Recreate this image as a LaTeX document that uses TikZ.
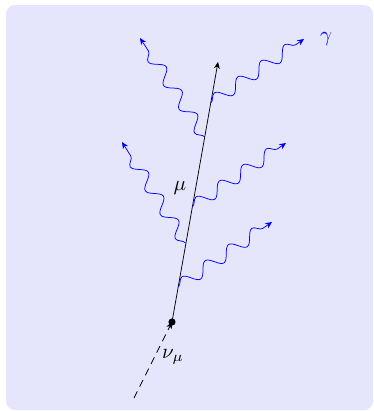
\documentclass[tikz,border=0pt]{standalone}
\usetikzlibrary{decorations.pathmorphing,arrows.meta}
\definecolor{bgcol}{RGB}{229,229,252}
\begin{document}
\begin{tikzpicture}[x=0.67pt,y=-0.67pt, line width=0.5pt,
  photon/.style={blue, decorate, decoration={snake, amplitude=4.2pt, segment length=19pt, post length=3pt}, -{Stealth[length=4.5pt,width=4pt]}},
  muon/.style={-{Stealth[length=4.5pt,width=4pt]}},
  nu/.style={dashed, dash pattern=on 5pt off 3.5pt, -{Stealth[length=4.5pt,width=4pt]}},
  lbl/.style={inner sep=1pt, scale=1.4}]
\useasboundingbox (0,0) rectangle (373,411);
\fill[bgcol, rounded corners=6pt] (6,5) rectangle (373,410);
\coordinate (v) at (172,322);
\coordinate (top) at (218,62);
\coordinate (bot) at (134,398);
\coordinate (p1) at (178.2,287);
\coordinate (p2) at (185.5,243);
\coordinate (p3) at (192.3,207);
\coordinate (p4) at (204.7,137);
\coordinate (p5) at (210.7,103);
\coordinate (e1) at (272,222);
\coordinate (e2) at (122,142);
\coordinate (e3) at (286,143);
\coordinate (e4) at (140,38);
\coordinate (e5) at (304,39);
\draw[muon] (v) -- (top);
\draw[nu] (bot) -- (v);
\fill (v) circle (2.4pt);
\draw[photon] (p1) -- (e1);
\draw[photon] (p2) -- (e2);
\draw[photon] (p3) -- (e3);
\draw[photon] (p4) -- (e4);
\draw[photon] (p5) -- (e5);
\node[lbl, blue] (g) at (326,39) {$\gamma$};
\node[lbl] (mu) at (180,188) {$\mu$};
\node[lbl] (numu) at (173,357) {$\nu_\mu$};
\end{tikzpicture}
\end{document}
